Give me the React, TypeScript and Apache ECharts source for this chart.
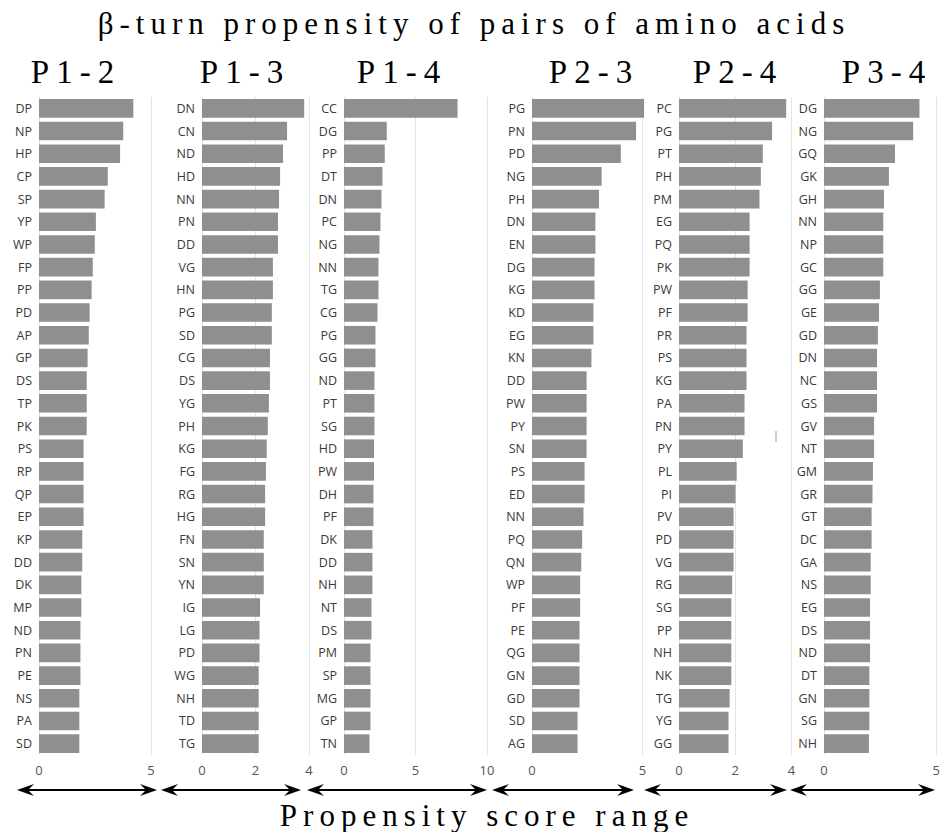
import React, { useEffect, useRef } from 'react';
import * as echarts from 'echarts';

const mainTitle = 'β-turn propensity of pairs of amino acids';
const bottomTitle = 'Propensity score range';
const panelTitles = ['P1-2', 'P1-3', 'P1-4', 'P2-3', 'P2-4', 'P3-4'];

const cats12 = ['DP','NP','HP','CP','SP','YP','WP','FP','PP','PD','AP','GP','DS','TP','PK','PS','RP','QP','EP','KP','DD','DK','MP','ND','PN','PE','NS','PA','SD'];
const vals12 = [4.21,3.76,3.62,3.07,2.93,2.54,2.49,2.40,2.35,2.26,2.22,2.17,2.13,2.13,2.13,1.99,1.99,1.99,1.99,1.93,1.93,1.89,1.89,1.85,1.85,1.85,1.80,1.80,1.80];

const cats13 = ['DN','CN','ND','HD','NN','PN','DD','VG','HN','PG','SD','CG','DS','YG','PH','KG','FG','RG','HG','FN','SN','YN','IG','LG','PD','WG','NH','TD','TG'];
const vals13 = [3.82,3.18,3.03,2.92,2.88,2.84,2.84,2.65,2.65,2.61,2.61,2.54,2.54,2.50,2.46,2.42,2.39,2.36,2.36,2.31,2.31,2.31,2.17,2.15,2.15,2.12,2.12,2.12,2.12];

const cats14 = ['CC','DG','PP','DT','DN','PC','NG','NN','TG','CG','PG','GG','ND','PT','SG','HD','PW','DH','PF','DK','DD','NH','NT','DS','PM','SP','MG','GP','TN'];
const vals14 = [7.94,2.99,2.85,2.69,2.62,2.55,2.48,2.41,2.41,2.34,2.20,2.20,2.13,2.13,2.13,2.10,2.10,2.06,2.06,1.99,1.99,1.99,1.92,1.92,1.85,1.85,1.85,1.85,1.78];

const cats23 = ['PG','PN','PD','NG','PH','DN','EN','DG','KG','KD','EG','KN','DD','PW','PY','SN','PS','ED','NN','PQ','QN','WP','PF','PE','QG','GN','GD','SD','AG'];
const vals23 = [5.07,4.71,4.02,3.15,3.03,2.87,2.87,2.83,2.83,2.78,2.78,2.69,2.47,2.47,2.47,2.47,2.38,2.38,2.33,2.27,2.23,2.18,2.18,2.15,2.15,2.15,2.15,2.06,2.06];

const cats24 = ['PC','PG','PT','PH','PM','EG','PQ','PK','PW','PF','PR','PS','KG','PA','PN','PY','PL','PI','PV','PD','VG','RG','SG','PP','NH','NK','TG','YG','GG'];
const vals24 = [3.81,3.31,2.98,2.91,2.86,2.51,2.51,2.51,2.44,2.44,2.40,2.40,2.40,2.33,2.33,2.27,2.05,2.01,1.94,1.94,1.94,1.89,1.86,1.86,1.86,1.86,1.80,1.76,1.76];

const cats34 = ['DG','NG','GQ','GK','GH','NN','NP','GC','GG','GE','GD','DN','NC','GS','GV','NT','GM','GR','GT','DC','GA','NS','EG','DS','ND','DT','GN','SG','NH'];
const vals34 = [4.25,3.97,3.16,2.89,2.67,2.64,2.64,2.64,2.49,2.45,2.40,2.36,2.36,2.36,2.23,2.23,2.18,2.16,2.12,2.12,2.08,2.08,2.05,2.05,2.05,2.02,2.02,2.02,2.00];

const axisMax = [5, 4, 10, 5, 4, 5];
const axisInterval = [5, 2, 5, 5, 2, 5];

const panels = [
  { cats: cats12, vals: vals12 },
  { cats: cats13, vals: vals13 },
  { cats: cats14, vals: vals14 },
  { cats: cats23, vals: vals23 },
  { cats: cats24, vals: vals24 },
  { cats: cats34, vals: vals34 },
];

// layout (pixels)
const gridLeft = [39, 202, 344, 532, 679, 824];
const gridWidth = [112, 107, 143, 110.5, 112.5, 113];
const panelTitleX = [76, 245, 402, 594, 738, 887];
const arrowSpans = [[17, 157], [161, 301], [307, 487], [492, 634], [644, 787], [790, 935]];

function arrow(x1: number, x2: number, y: number) {
  return {
    type: 'group',
    children: [
      { type: 'line', shape: { x1: x1 + 8, y1: y, x2: x2 - 8, y2: y }, style: { stroke: '#000', lineWidth: 2 } },
      { type: 'polygon', shape: { points: [[x2, y], [x2 - 17, y - 6], [x2 - 11, y], [x2 - 17, y + 6]] }, style: { fill: '#000' } },
      { type: 'polygon', shape: { points: [[x1, y], [x1 + 17, y - 6], [x1 + 11, y], [x1 + 17, y + 6]] }, style: { fill: '#000' } },
    ],
  };
}

export default function App() {
  const ref = useRef<HTMLDivElement>(null);
  useEffect(() => {
    if (!ref.current) return;
    const chart = echarts.init(ref.current, null, { renderer: 'svg' });
    const grids = panels.map((_, i) => ({ left: gridLeft[i], width: gridWidth[i], top: 97, height: 658 }));
    const xAxes = panels.map((_, i) => ({
      type: 'value', gridIndex: i, min: 0, max: axisMax[i], interval: axisInterval[i],
      axisLine: { show: false }, axisTick: { show: false },
      splitLine: { show: true, lineStyle: { color: '#e4e4e4', width: 1 } },
      axisLabel: { color: '#555', fontSize: 13, fontFamily: 'Open Sans', margin: 8 },
    }));
    const yAxes = panels.map((p, i) => ({
      type: 'category', gridIndex: i, data: p.cats, inverse: true,
      axisLine: { show: false }, axisTick: { show: false },
      axisLabel: { color: '#3a3a3a', fontSize: 12.5, fontFamily: 'Open Sans', margin: 7 },
    }));
    const series = panels.map((p, i) => ({
      type: 'bar', xAxisIndex: i, yAxisIndex: i, data: p.vals, clip: false,
      barCategoryGap: '18%',
      itemStyle: { color: '#8f8f8f' },
      silent: true,
    }));
    const graphic: any[] = [
      { type: 'text', x: 474, y: 23, style: { text: mainTitle, font: '31px "Liberation Serif"', fill: '#000', textAlign: 'center', textVerticalAlign: 'middle' } },
      { type: 'text', x: 487, y: 815, style: { text: bottomTitle, font: '31px "Liberation Serif"', fill: '#000', textAlign: 'center', textVerticalAlign: 'middle' } },
      ...panelTitles.map((t, i) => ({ type: 'text', x: panelTitleX[i], y: 72, style: { text: t, font: '33px "Liberation Serif"', fill: '#000', textAlign: 'center', textVerticalAlign: 'middle' } })),
      ...arrowSpans.map((s) => arrow(s[0], s[1], 790)),
      { type: 'line', shape: { x1: 776, y1: 431, x2: 776, y2: 442 }, style: { stroke: '#9a9a9a', lineWidth: 1 } },
    ];
    chart.setOption({
      animation: false,
      backgroundColor: '#fff',
      grid: grids,
      xAxis: xAxes,
      yAxis: yAxes,
      series,
      graphic,
    } as any);
    return () => chart.dispose();
  }, []);
  return (
    <>
      <style>{`
        text[style*="31px"][style*="Liberation Serif"] { letter-spacing: 6px; }
        text[style*="33px"][style*="Liberation Serif"] { letter-spacing: 7px; }
      `}</style>
      <div ref={ref} style={{ position: 'fixed', left: 0, top: 0, width: 943, height: 832, background: '#fff' }} />
    </>
  );
}
